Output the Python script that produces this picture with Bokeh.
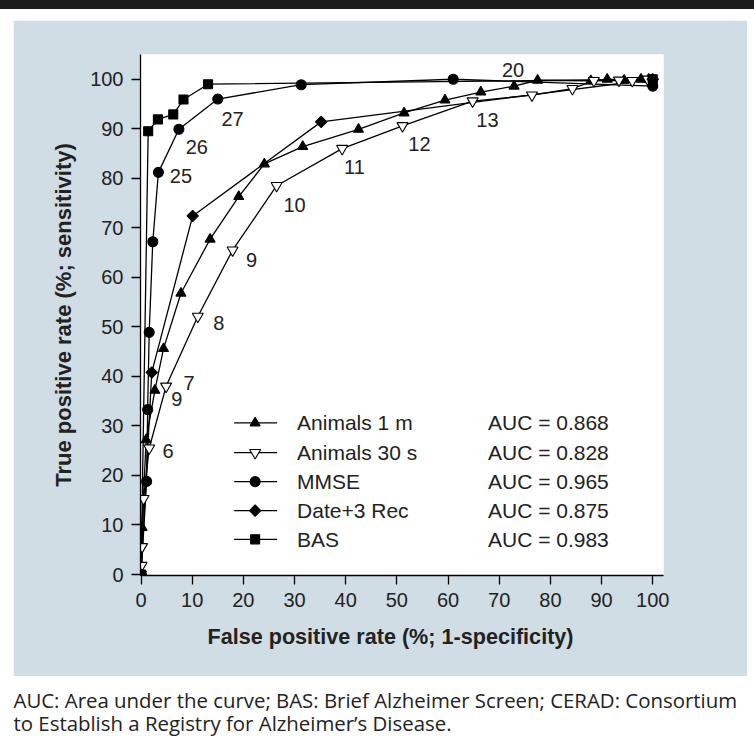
from bokeh.plotting import figure
from bokeh.layouts import column, row
from bokeh.models import Spacer, Div, Range1d, FixedTicker, Title
from bokeh.core.properties import value
from bokeh.embed import file_html
from bokeh.resources import INLINE
import numpy as np

# ---------------- data ----------------
bas_x = [0, 1.4, 3.3, 6.3, 8.3, 13.1, 100]
bas_y = [0, 89.5, 91.9, 92.9, 95.9, 99.0, 100]

mmse_x = [0, 1.1, 1.3, 1.6, 2.3, 3.4, 7.4, 15.0, 31.3, 61.0, 100]
mmse_y = [0, 18.8, 33.3, 48.9, 67.2, 81.2, 89.9, 96.0, 98.9, 100.0, 98.6]

a1_x = [0, 0.2, 1.0, 2.7, 4.4, 7.8, 13.5, 19.1, 24.1, 31.6, 42.5, 51.4, 59.4,
        66.4, 72.9, 77.5, 87.9, 91.1, 94.4, 97.7, 99.2]
a1_y = [0, 9.5, 27.2, 37.2, 45.6, 56.8, 67.7, 76.3, 82.9, 86.4, 89.9, 93.2, 95.8,
        97.4, 98.6, 99.8, 99.7, 100, 99.8, 100, 100]

a30_x = [0, 0.1, 0.2, 0.5, 1.6, 4.9, 11.1, 17.9, 26.5, 39.3, 51.1, 64.8, 76.4,
         84.3, 88.5, 93.4, 96.0, 99.0]
a30_y = [0, 1.8, 5.6, 15.3, 25.5, 38.0, 52.1, 65.5, 78.5, 86.0, 90.6, 95.6, 96.8,
         98.1, 99.7, 99.8, 99.7, 100]

date_x = [0, 2.1, 10.1, 35.2, 100]
date_y = [0, 40.8, 72.4, 91.4, 100]

cut_text = ["25", "26", "27", "6", "9", "7", "8", "9", "10", "11", "12", "13", "20"]
cut_x = [7.8, 10.9, 17.9, 5.3, 7.0, 9.4, 15.2, 21.6, 30.0, 41.7, 54.4, 67.7, 72.7]
cut_y = [80.4, 86.4, 91.9, 24.9, 35.4, 38.6, 50.7, 63.6, 74.6, 82.2, 87.0, 91.7, 101.8]

leg_names = ["Animals 1 m", "Animals 30 s", "MMSE", "Date+3 Rec", "BAS"]
leg_auc = ["AUC = 0.868", "AUC = 0.828", "AUC = 0.965", "AUC = 0.875", "AUC = 0.983"]
leg_y = [30.6, 24.6, 18.75, 12.9, 7.1]
leg_line_x = [18.2, 26.6]
leg_mark_x = 22.3
leg_name_x = 30.5
leg_auc_x = 67.8

ticks = [0, 10, 20, 30, 40, 50, 60, 70, 80, 90, 100]

x_title = "False positive rate (%; 1-specificity)"
y_title = "True positive rate (%; sensitivity)"
caption = ["AUC: Area under the curve; BAS: Brief Alzheimer Screen; CERAD: Consortium",
           "to Establish a Registry for Alzheimer\u2019s Disease."]

# ---------------- styling ----------------
PANEL = "#d0dde5"
INK = "#222222"
FONT = "Liberation Sans"

p = figure(width=734, height=656, x_range=Range1d(-0.1, 102.1), y_range=Range1d(-0.2, 105.0),
           output_backend="svg", toolbar_location=None,
           min_border_left=127, min_border_right=84, min_border_top=34, min_border_bottom=101)
p.border_fill_color = PANEL
p.background_fill_color = "white"
p.outline_line_color = None
p.grid.visible = False

for ax in (p.xaxis[0], p.yaxis[0]):
    ax.ticker = FixedTicker(ticks=ticks)
    ax.axis_line_color = "black"
    ax.axis_line_width = 1.3
    ax.major_tick_line_color = "black"
    ax.major_tick_line_width = 1.3
    ax.major_tick_out = 9
    ax.major_tick_in = 0
    ax.minor_tick_line_color = None
    ax.major_label_text_font = FONT
    ax.major_label_text_font_size = "20px"
    ax.major_label_text_color = INK
    ax.major_label_standoff = 8
    ax.axis_label_text_font = FONT
    ax.axis_label_text_font_style = "bold"
    ax.axis_label_text_font_size = "22px"
    ax.axis_label_text_color = INK

p.yaxis.axis_label = y_title
p.yaxis.axis_label_standoff = 11

p.add_layout(Title(text=x_title, align="left", offset=67, standoff=24,
                   text_font=FONT, text_font_style="bold", text_font_size="21.6px",
                   text_color=INK), "below")

LW = 1.3
series = [
    (a1_x, a1_y, "triangle", "black", 10, 0),
    (a30_x, a30_y, "inverted_triangle", "white", 11, 0),
    (mmse_x, mmse_y, "circle", "black", 10, 0),
    (date_x, date_y, "square", "black", 8, np.pi / 4),
    (bas_x, bas_y, "square", "black", 9, 0),
]
for xs, ys, mk, fill, sz, ang in series:
    p.line(xs, ys, line_color="black", line_width=LW)
for xs, ys, mk, fill, sz, ang in series:
    p.scatter(xs, ys, marker=mk, size=sz, angle=ang, fill_color=fill,
              line_color="black", line_width=1.1)

p.text(x=cut_x, y=cut_y, text=cut_text, text_font=value(FONT), text_font_size="20px",
       text_color=INK, text_align="center", text_baseline="middle")

# legend (drawn by hand, as in the reference)
for (xs, ys, mk, fill, sz, ang), ly in zip(series, leg_y):
    p.line(leg_line_x, [ly, ly], line_color="black", line_width=LW)
    p.scatter([leg_mark_x], [ly], marker=mk, size=sz, angle=ang, fill_color=fill,
              line_color="black", line_width=1.1)
p.text(x=[leg_name_x] * len(leg_names), y=leg_y, text=leg_names, text_font=value(FONT),
       text_font_size="21px", text_color=INK, text_align="left", text_baseline="middle")
p.text(x=[leg_auc_x] * len(leg_auc), y=leg_y, text=leg_auc, text_font=value(FONT),
       text_font_size="21px", text_color=INK, text_align="left", text_baseline="middle")

# caption figure
cap = figure(width=754, height=71, x_range=Range1d(0, 754), y_range=Range1d(0, 71),
             output_backend="svg", toolbar_location=None, x_axis_type=None, y_axis_type=None,
             min_border=0, min_border_left=0, min_border_right=0, min_border_top=0, min_border_bottom=0)
cap.outline_line_color = None
cap.background_fill_color = "white"
cap.border_fill_color = "white"
cap.grid.visible = False
cap.text(x=[13, 13], y=[48, 25], text=caption, text_font=value("Open Sans"),
         text_font_size="20.4px", text_color=INK, text_align="left", text_baseline="alphabetic")

top_bar = Div(text="", width=754, height=9, margin=(0, 0, 0, 0),
              styles={"background-color": "#1b1b1b"})
layout = column(
    top_bar,
    Spacer(width=754, height=11, margin=(0, 0, 0, 0)),
    row(Spacer(width=13, height=656, margin=(0, 0, 0, 0)), p, spacing=0),
    cap,
    spacing=0,
)

open("out.html", "w").write(file_html(layout, INLINE))
